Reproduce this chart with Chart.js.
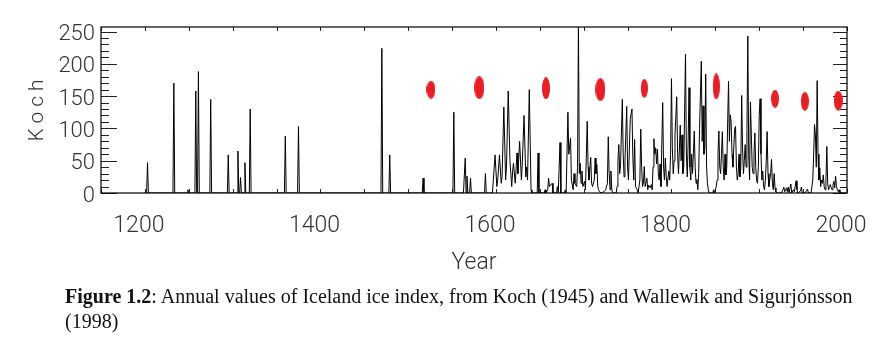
<!DOCTYPE html>
<html>
<head>
<meta charset="utf-8">
<script src="https://cdn.jsdelivr.net/npm/chart.js@4.4.0/dist/chart.umd.min.js"></script>
<style>
  body { margin: 0; background: #fff; }
  #wrap { position: relative; width: 893px; height: 346px; }
  #cap {
    position: absolute; left: 65px; top: 284px;
    font: 20px 'Liberation Serif', 'Times New Roman', serif;
    line-height: 25px; white-space: nowrap; color: #111;
  }
</style>
</head>
<body>
<div id="wrap">
  <canvas id="iceChart" width="893" height="346"></canvas>
  <div id="cap"><b>Figure 1.2</b>: Annual values of Iceland ice index, from Koch (1945) and Wallewik and Sigurjónsson<br>(1998)</div>
</div>
<script>
// Koch ice index (year / value pairs)
let kochYears = [
  1200, 1202, 1203, 1204, 1232, 1233, 1234, 1248, 1249, 1250,
  1257, 1258, 1259, 1260, 1261, 1262, 1274, 1275, 1276, 1294,
  1295, 1296, 1305, 1306, 1307, 1308, 1309, 1310, 1313, 1314,
  1315, 1319, 1320, 1321, 1359, 1360, 1361, 1374, 1375, 1376,
  1469, 1470, 1471, 1478, 1479, 1480, 1516, 1517, 1518, 1551,
  1552, 1553, 1563, 1564, 1565, 1566, 1567, 1568, 1570, 1571,
  1572, 1587, 1588, 1589,
  1596, 1599, 1601, 1602, 1604, 1606, 1607, 1609, 1611, 1612,
  1614, 1616, 1618, 1619, 1620, 1622, 1624, 1625, 1627, 1629,
  1630, 1632, 1634, 1635, 1636, 1638, 1640, 1641, 1647, 1648,
  1649, 1655, 1656, 1657, 1659, 1660, 1661, 1662, 1664, 1665,
  1669, 1670, 1671, 1673, 1674, 1678, 1679, 1680, 1682, 1683,
  1685, 1686, 1688, 1689, 1690, 1692, 1693, 1694, 1695, 1696,
  1697, 1698, 1699, 1701, 1702, 1704, 1705, 1706, 1708, 1709,
  1710, 1712, 1713, 1714, 1715, 1716, 1717, 1718, 1720, 1723,
  1725, 1727, 1728, 1729, 1730, 1731, 1732, 1733, 1737, 1738,
  1739, 1740, 1741, 1742, 1744, 1745, 1746, 1747, 1749, 1750,
  1751, 1753, 1755, 1756, 1757, 1758, 1759, 1761, 1762, 1764,
  1765, 1766, 1767, 1768, 1769, 1770, 1772, 1773, 1774, 1776,
  1777, 1778, 1779, 1780, 1781, 1782, 1783, 1784, 1785, 1786,
  1787, 1788, 1790, 1791, 1792, 1793, 1794, 1795, 1797, 1798,
  1799, 1800, 1801, 1802, 1803, 1804, 1806, 1807, 1808, 1810,
  1811, 1812, 1813, 1814, 1816, 1817, 1818, 1819, 1820, 1821,
  1822, 1823, 1824, 1826, 1827, 1828, 1829, 1830, 1831, 1832,
  1834, 1835, 1836, 1837, 1838, 1839, 1840, 1841, 1842, 1843,
  1847, 1848, 1849, 1851, 1852, 1853, 1854, 1855, 1856, 1857,
  1858, 1859, 1860, 1861, 1862, 1863, 1865, 1866, 1867, 1868,
  1869, 1870, 1871, 1872, 1873, 1874, 1875, 1876, 1877, 1878,
  1879, 1880, 1881, 1882, 1883, 1884, 1885, 1886, 1887, 1888,
  1889, 1890, 1891, 1892, 1893, 1894, 1895, 1896, 1897, 1898,
  1899, 1900, 1901, 1902, 1903, 1904, 1905, 1906, 1907, 1908,
  1909, 1910, 1911, 1912, 1913, 1914, 1915, 1916, 1917, 1918,
  1919, 1920, 1925, 1927, 1928, 1929, 1930, 1931, 1932, 1933,
  1934, 1936, 1937, 1939, 1940, 1942, 1943, 1944, 1947, 1948,
  1949, 1952, 1955, 1956, 1959, 1961, 1962, 1963, 1964, 1965,
  1966, 1967, 1968, 1969, 1970, 1971, 1972, 1973, 1974, 1975,
  1976, 1977, 1978, 1979, 1980, 1981, 1982, 1983, 1984, 1985,
  1986, 1987, 1988, 1989, 1990, 1991, 1992, 1998
];
let kochValues = [
  0, 0, 47, 0, 0, 170, 0, 0, 5, 0,
  0, 158, 0, 0, 188, 0, 0, 145, 0, 0,
  59, 0, 0, 65, 0, 0, 24, 0, 0, 47,
  0, 0, 130, 0, 0, 88, 0, 0, 103, 0,
  0, 224, 0, 0, 59, 0, 0, 23, 0, 0,
  125, 0, 0, 28, 54, 0, 26, 0, 0, 23,
  0, 0, 30, 0,
  0, 59, 10, 20, 59, 15, 25, 133, 20, 40,
  158, 49, 10, 34, 46, 15, 62, 30, 80, 20,
  45, 120, 25, 40, 20, 160, 5, 0, 0, 62,
  0, 0, 5, 0, 5, 23, 10, 12, 15, 0,
  0, 10, 0, 78, 0, 0, 5, 0, 125, 60,
  85, 20, 5, 30, 15, 10, 40, 265, 30, 46,
  15, 34, 10, 18, 5, 111, 40, 20, 55, 15,
  10, 20, 54, 30, 44, 10, 5, 2, 0, 2,
  5, 15, 87, 30, 5, 34, 5, 0, 0, 10,
  50, 75, 30, 45, 145, 60, 25, 50, 134, 40,
  20, 114, 130, 55, 20, 83, 10, 5, 0, 20,
  99, 40, 10, 15, 41, 10, 23, 5, 12, 8,
  13, 5, 40, 84, 60, 70, 45, 68, 30, 20,
  45, 10, 140, 40, 20, 54, 26, 10, 34, 20,
  60, 177, 70, 30, 50, 90, 149, 60, 30, 105,
  50, 90, 30, 40, 215, 60, 25, 80, 163, 40,
  20, 60, 30, 96, 40, 15, 21, 5, 30, 100,
  204, 80, 135, 60, 70, 184, 40, 15, 5, 0,
  0, 5, 0, 10, 20, 60, 96, 40, 30, 60,
  95, 40, 20, 60, 28, 40, 173, 80, 121, 110,
  60, 40, 70, 100, 103, 40, 20, 30, 60, 25,
  40, 151, 70, 30, 50, 75, 40, 100, 243, 60,
  20, 141, 90, 40, 30, 60, 93, 40, 20, 15,
  40, 120, 146, 60, 20, 34, 10, 5, 20, 50,
  95, 30, 10, 20, 30, 52, 15, 5, 30, 8,
  2, 0, 0, 5, 9, 2, 5, 8, 2, 9,
  0, 14, 0, 5, 2, 19, 5, 0, 3, 9,
  0, 0, 6, 0, 0, 20, 60, 106, 90, 40,
  174, 60, 20, 39, 10, 20, 15, 28, 10, 5,
  20, 72, 15, 5, 10, 13, 8, 5, 12, 18,
  8, 26, 10, 5, 2, 5, 0, 0
];

// red markers (period means)
let dotYears = [1526, 1581, 1657, 1719, 1769, 1851, 1918, 1952, 1990];
let dotValues = [160, 163, 162, 160, 162, 165, 146, 142, 143];

let yTicks = [0, 50, 100, 150, 200, 250];
let xTicks = [1200, 1400, 1600, 1800, 2000];

// marker sizes (px)
let dotW = [9, 10, 8, 10, 7, 7, 8, 8, 9];
let dotH = [18, 23, 22, 23, 19, 26, 18, 19, 20];

function ellipse(w, h) {
  let c = document.createElement('canvas');
  c.width = w; c.height = h;
  let g = c.getContext('2d');
  g.fillStyle = '#ec1c24';
  g.beginPath();
  g.ellipse(w / 2, h / 2, w / 2, h / 2, 0, 0, Math.PI * 2);
  g.fill();
  return c;
}

const axisFont = "Roboto, 'Liberation Sans', sans-serif";

// box with inward tick marks, drawn from the scales
const frame = {
  id: 'frame',
  beforeDatasetsDraw(chart) {
    const { ctx, chartArea: a, scales: { x, y } } = chart;
    ctx.save();
    ctx.strokeStyle = '#222';
    ctx.lineWidth = 1;
    ctx.beginPath();
    for (let v = 0; v <= 250; v += 10) {
      let py = Math.round(y.getPixelForValue(v)) + 0.5;
      let major = v % 50 === 0;
      ctx.moveTo(a.left, py); ctx.lineTo(a.left + (major ? 16 : 8), py);
      ctx.moveTo(a.right, py); ctx.lineTo(a.right - (major ? 14 : 7), py);
    }
    for (let v = 1150; v <= 2000; v += 50) {
      let px = Math.round(x.getPixelForValue(v)) + 0.5;
      ctx.moveTo(px, a.top); ctx.lineTo(px, a.top + 4);
      ctx.moveTo(px, a.bottom); ctx.lineTo(px, a.bottom - 4);
    }
    ctx.stroke();
    ctx.strokeStyle = '#000';
    ctx.lineWidth = 1.2;
    ctx.strokeRect(a.left, a.top, a.right - a.left, a.bottom - a.top);
    // y title
    ctx.translate(38, (a.top + a.bottom) / 2);
    ctx.rotate(-Math.PI / 2);
    ctx.letterSpacing = '5px';
    ctx.font = "300 21px Roboto, 'Liberation Sans', sans-serif";
    ctx.fillStyle = '#333';
    ctx.textAlign = 'center';
    ctx.textBaseline = 'middle';
    ctx.fillText('Koch', 2, 0);
    ctx.restore();
  }
};

let ctx = document.getElementById('iceChart').getContext('2d');
let myChart = new Chart(ctx, {
  type: 'line',
  data: {
    datasets: [{
      type: 'scatter',
      data: dotYears.map((yr, i) => ({ x: yr, y: dotValues[i] })),
      pointStyle: dotW.map((w, i) => ellipse(w, dotH[i])),
      clip: false
    }, {
      data: kochYears.map((yr, i) => ({ x: yr, y: kochValues[i] })),
      borderColor: '#000',
      borderWidth: 1,
      pointRadius: 0,
      tension: 0
    }]
  },
  options: {
    responsive: false,
    animation: false,
    devicePixelRatio: 1,
    layout: { padding: { left: 0, right: 46, top: 27, bottom: 63 } },
    plugins: { legend: { display: false }, tooltip: { enabled: false } },
    scales: {
      x: {
        type: 'linear',
        min: 1150,
        max: 2000,
        afterBuildTicks: (s) => { s.ticks = xTicks.map(v => ({ value: v })); },
        afterFit: (s) => { s.height = 90; },
        grid: { display: false, drawTicks: false },
        border: { display: false },
        ticks: {
          autoSkip: false, maxRotation: 0, padding: 19, labelOffset: -6,
          callback: (v) => String(v),
          color: '#333', font: { family: axisFont, size: 23, weight: '300' }
        },
        title: {
          display: true, text: 'Year', color: '#333',
          font: { family: axisFont, size: 23, weight: '300' },
          padding: { top: 6, bottom: 6 }
        }
      },
      y: {
        min: 0,
        max: 257,
        afterBuildTicks: (s) => { s.ticks = yTicks.map(v => ({ value: v })); },
        afterFit: (s) => { s.width = 101; },
        grid: { display: false, drawTicks: false },
        border: { display: false },
        ticks: {
          padding: 6, labelOffset: 3,
          callback: (v) => String(v),
          color: '#333', font: { family: axisFont, size: 22, weight: '300' }
        }
      }
    }
  },
  plugins: [frame]
});
</script>
</body>
</html>
